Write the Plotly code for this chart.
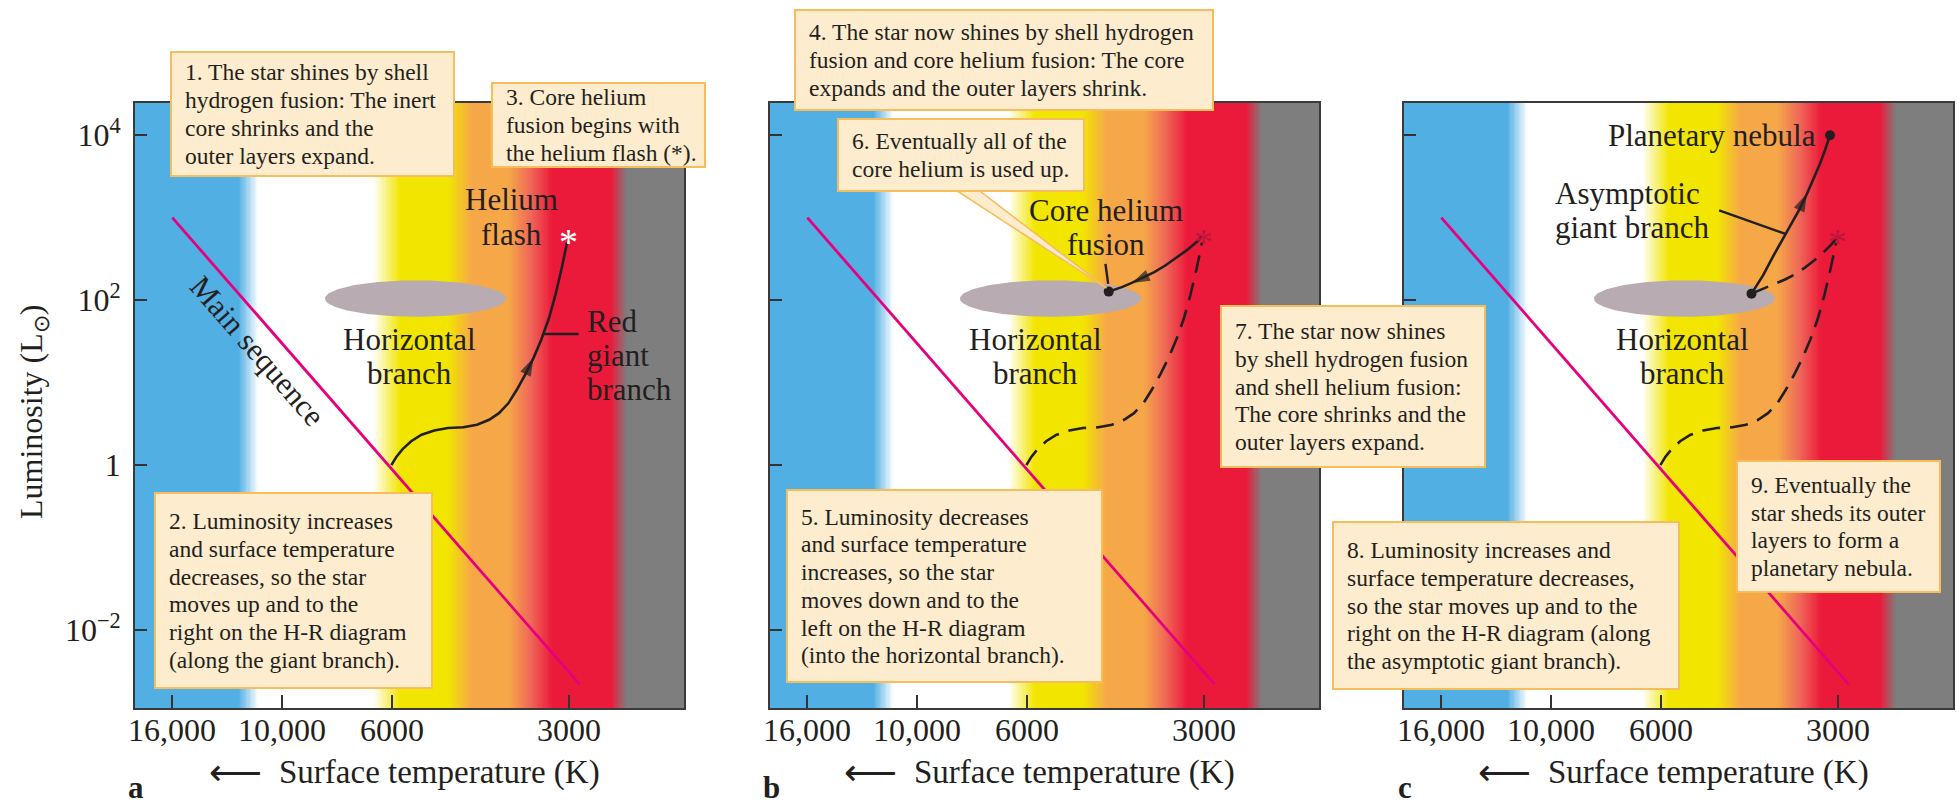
import numpy as np
import plotly.graph_objects as go

# ---------------------------------------------------------------- data
# Temperature axis is schematic: positions are percent of the panel width.
TEMP_TICK_LABELS = ["16,000", "10,000", "6000", "3000"]
TEMP_TICK_POS = [6.7, 26.7, 46.8, 79.0]

LUM_TICK_VALUES = [1e4, 1e2, 1, 1e-2]
LUM_TICK_LABELS = ["10<sup>4</sup>", "10<sup>2</sup>", "1", "10<sup>−2</sup>"]

# main sequence
MS_POS = [6.8, 81.0]
MS_LUM = [1000, 0.0022]

# red giant branch, from the main-sequence turnoff up to the helium flash
RG_POS = [46.7, 47.6, 48.8, 50.3, 52.2, 54.5, 57.0, 59.8, 62.3, 64.5,
          66.3, 68.0, 69.6, 71.1, 72.6, 74.0, 75.4, 76.6, 77.7, 78.7]
RG_LUM = [1.0, 1.26, 1.58, 1.95, 2.34, 2.63, 2.82, 2.88, 3.09, 3.55,
          4.27, 5.62, 8.32, 12.6, 20.0, 33.1, 60.3, 117, 240, 501]

# helium flash
FLASH_POS = 79.0
FLASH_LUM = 640

# horizontal-branch region
HB_POS_RANGE = [34.6, 67.6]
HB_LUM_RANGE = [63, 174]

# panel b: helium flash -> core helium fusion on the horizontal branch
HB_ARC_B_POS = [78.6, 77.8, 76.0, 74.1, 72.0, 70.0, 67.9, 65.9, 64.2, 62.7, 61.7]
HB_ARC_B_LUM = [589, 513, 407, 331, 263, 219, 186, 162, 145, 133, 127]

# panel c: same path (past), from the horizontal branch back to the flash
HB_ARC_C_POS = [63.3, 65.5, 67.5, 69.4, 71.1, 72.9, 74.7, 76.4, 77.9, 78.8]
HB_ARC_C_LUM = [120, 138, 158, 178, 204, 245, 302, 380, 479, 570]

# panel c: asymptotic giant branch up to the planetary nebula
AGB_POS = [63.3, 65.4, 67.3, 69.1, 70.7, 72.1, 73.4, 74.6, 75.7, 76.7, 77.6]
AGB_LUM = [120, 200, 347, 562, 851, 1288, 1950, 2951, 4365, 6607, 10000]

# leader lines from labels to curves
RGB_LEADER_POS = [74.4, 80.8]
RGB_LEADER_LUM = [38.9, 38.9]
CHF_LEADER_POS = [61.1, 61.6]
CHF_LEADER_LUM = [275, 158]
AGB_LEADER_POS = [57.4, 69.6]
AGB_LEADER_LUM = [1230, 631]

# ---------------------------------------------------------------- layout
W, H = 1957, 809
PANEL_LEFT = [135, 770, 1404]
PANEL_W = 549
FRAME_TOP, FRAME_BOTTOM = 103, 708
PX_PER_DEC = 82.5
LOG_TOP = 4.39
LOG_BOTTOM = LOG_TOP - (FRAME_BOTTOM - FRAME_TOP) / PX_PER_DEC

SERIF = "Liberation Serif"
INK = "#231f20"
BOX_FILL = "#fdeccd"
BOX_EDGE = "#f6bd5c"
MAGENTA = "#e6007e"
FLASH_RED = "#c0143c"

BANDS = [
    [0.000, "rgb(82,175,228)"],
    [0.188, "rgb(82,175,228)"],
    [0.225, "rgb(255,255,255)"],
    [0.434, "rgb(255,255,255)"],
    [0.483, "rgb(242,229,0)"],
    [0.570, "rgb(242,229,0)"],
    [0.613, "rgb(246,168,72)"],
    [0.680, "rgb(246,168,72)"],
    [0.720, "rgb(239,104,88)"],
    [0.760, "rgb(236,26,58)"],
    [0.867, "rgb(236,26,58)"],
    [0.896, "rgb(126,126,126)"],
    [1.000, "rgb(126,126,126)"],
]

AX = [("x", "y"), ("x2", "y2"), ("x3", "y3")]


def px_to_data(panel, px, py):
    pos = (px - PANEL_LEFT[panel]) / PANEL_W * 100
    lum = 10 ** (LOG_TOP - (py - FRAME_TOP) / PX_PER_DEC)
    return pos, lum


fig = go.Figure()
annotations = []
shapes = []


def text(x, y, s, size, xref="paper", yref="paper", xanchor="center",
         color=INK, family=SERIF, **kw):
    annotations.append(dict(x=x, y=y, xref=xref, yref=yref, text=s,
                            showarrow=False, xanchor=xanchor, yanchor="middle",
                            font=dict(family=family, size=size, color=color), **kw))


def line(panel, x, y, color=INK, width=2.4, dash="solid", mode="lines", **kw):
    xa, ya = AX[panel]
    fig.add_trace(go.Scatter(x=x, y=y, mode=mode, xaxis=xa, yaxis=ya,
                             line=dict(color=color, width=width, dash=dash),
                             hoverinfo="skip", showlegend=False, **kw))


def stacked(lines, x, y, xref, yref, size, spacing, xanchor="center", angle=0):
    n = len(lines)
    for k, s in enumerate(lines):
        text(x, y, s, size, xref=xref, yref=yref, xanchor=xanchor,
             yshift=((n - 1) / 2 - k) * spacing, textangle=angle)


def arrow_on(panel, pos, lum, head, tail):
    # arrowhead marker oriented along the curve direction
    xa, ya = AX[panel]
    fig.add_trace(go.Scatter(
        x=[pos[tail], pos[head]], y=[lum[tail], lum[head]], mode="markers",
        marker=dict(symbol="arrow", size=[0, 19], color=INK, angleref="previous",
                    line=dict(width=0)),
        xaxis=xa, yaxis=ya, hoverinfo="skip", showlegend=False))


def flash_star(panel, color):
    xa, ya = AX[panel]
    text(FLASH_POS, np.log10(FLASH_LUM), "*", 38, xref=xa, yref=ya,
         color=color, yshift=-8)


def box(x0, y0, x1, y1, lines, size=23.5, spacing=27.7):
    shapes.append(dict(type="rect", xref="paper", yref="paper",
                       x0=x0 / W, x1=x1 / W, y0=1 - y0 / H, y1=1 - y1 / H,
                       fillcolor=BOX_FILL, line=dict(color=BOX_EDGE, width=2),
                       layer="above"))
    n = len(lines)
    first = (y0 + y1) / 2 - (n - 1) / 2 * spacing
    for k, s in enumerate(lines):
        text((x0 + 12) / W, 1 - (first + k * spacing) / H, s, size, xanchor="left")


# ---------------------------------------------------------------- panels
edges = np.linspace(0, 100, 441)
centers = (edges[:-1] + edges[1:]) / 2
theta = np.linspace(0, 2 * np.pi, 181)
hb_cx = np.mean(HB_POS_RANGE)
hb_rx = (HB_POS_RANGE[1] - HB_POS_RANGE[0]) / 2
hb_cy = np.mean(np.log10(HB_LUM_RANGE))
hb_ry = (np.log10(HB_LUM_RANGE[1]) - np.log10(HB_LUM_RANGE[0])) / 2

for p in range(3):
    xa, ya = AX[p]
    # colour bands across the temperature axis
    fig.add_trace(go.Heatmap(
        x=edges, y=[10 ** LOG_BOTTOM, 10 ** LOG_TOP], z=[centers],
        zmin=0, zmax=100, colorscale=BANDS, showscale=False,
        hoverinfo="skip", xaxis=xa, yaxis=ya))
    # horizontal branch
    fig.add_trace(go.Scatter(
        x=hb_cx + hb_rx * np.cos(theta), y=10 ** (hb_cy + hb_ry * np.sin(theta)),
        mode="lines", fill="toself", fillcolor="#b8abb1", line=dict(width=0),
        xaxis=xa, yaxis=ya, hoverinfo="skip", showlegend=False))
    # main sequence
    line(p, MS_POS, MS_LUM, color=MAGENTA, width=2.8)
    # horizontal-branch label
    hb_label_pos = [50.0, 48.4, 50.8][p]
    stacked(["Horizontal", "branch"], hb_label_pos, np.log10(21), xa, ya, 31, 34)

# panel a
line(0, RG_POS, RG_LUM, width=2.6)
arrow_on(0, RG_POS, RG_LUM, 14, 13)
line(0, RGB_LEADER_POS, RGB_LEADER_LUM, width=2.4)
flash_star(0, "white")
stacked(["Helium", "flash"], 68.5, 3.01, "x", "y", 31, 35)
stacked(["Red", "giant", "branch"], 82.0, 1.33, "x", "y", 31, 34, xanchor="left")
stacked(["Main sequence"], 22.4, np.log10(24), "x", "y", 31, 0, angle=49)

# panel b
line(1, RG_POS, RG_LUM, width=2.6, dash="18px,10px")
line(1, HB_ARC_B_POS, HB_ARC_B_LUM, width=2.6)
arrow_on(1, HB_ARC_B_POS, HB_ARC_B_LUM, 7, 6)
line(1, CHF_LEADER_POS, CHF_LEADER_LUM, width=2.4)
line(1, HB_ARC_B_POS[-1:], HB_ARC_B_LUM[-1:], mode="markers",
     marker=dict(color=INK, size=10))
flash_star(1, FLASH_RED)
stacked(["Core helium", "fusion"], 61.2, 2.875, "x2", "y2", 31, 34)

# callout from box 6 to the end of core helium fusion
B6 = (838, 119, 1084, 191)
base_l = px_to_data(1, 948, B6[3] - 6)
base_r = px_to_data(1, 972, B6[3] - 6)
tip = (HB_ARC_B_POS[-1] - 0.4, HB_ARC_B_LUM[-1] * 1.1)
fig.add_trace(go.Scatter(
    x=[base_l[0], tip[0], base_r[0], base_l[0]],
    y=[base_l[1], tip[1], base_r[1], base_l[1]],
    mode="lines", fill="toself", fillcolor=BOX_FILL,
    line=dict(color=BOX_EDGE, width=1.5), xaxis="x2", yaxis="y2",
    hoverinfo="skip", showlegend=False))

# panel c
line(2, RG_POS, RG_LUM, width=2.6, dash="18px,10px")
line(2, HB_ARC_C_POS, HB_ARC_C_LUM, width=2.6, dash="18px,10px")
line(2, AGB_POS, AGB_LUM, width=2.6)
arrow_on(2, AGB_POS, AGB_LUM, 6, 5)
line(2, AGB_LEADER_POS, AGB_LEADER_LUM, width=2.4)
line(2, [AGB_POS[0], AGB_POS[-1]], [AGB_LUM[0], AGB_LUM[-1]], mode="markers",
     marker=dict(color=INK, size=10))
flash_star(2, FLASH_RED)
stacked(["Planetary nebula"], 75.4, 4.0, "x3", "y3", 31, 0, xanchor="right")
stacked(["Asymptotic", "giant branch"], 27.2, 3.09, "x3", "y3", 31, 34,
        xanchor="left")

# ---------------------------------------------------------------- boxes
box(171, 52, 454, 176, ["1. The star shines by shell", "hydrogen fusion: The inert",
                        "core shrinks and the", "outer layers expand."])
box(492, 83, 705, 167, ["3. Core helium", "fusion begins with",
                        "the helium flash (*)."])
box(155, 493, 432, 688, ["2. Luminosity increases", "and surface temperature",
                         "decreases, so the star", "moves up and to the",
                         "right on the H-R diagram", "(along the giant branch)."])
box(795, 10, 1213, 110, ["4. The star now shines by shell hydrogen",
                         "fusion and core helium fusion: The core",
                         "expands and the outer layers shrink."])
box(*B6, ["6. Eventually all of the", "core helium is used up."])
box(787, 490, 1102, 682, ["5. Luminosity decreases", "and surface temperature",
                          "increases, so the star", "moves down and to the",
                          "left on the H-R diagram", "(into the horizontal branch)."])
box(1221, 306, 1485, 467, ["7. The star now shines", "by shell hydrogen fusion",
                           "and shell helium fusion:", "The core shrinks and the",
                           "outer layers expand."])
box(1333, 522, 1679, 689, ["8. Luminosity increases and",
                           "surface temperature decreases,",
                           "so the star moves up and to the",
                           "right on the H-R diagram (along",
                           "the asymptotic giant branch)."])
box(1737, 461, 1940, 592, ["9. Eventually the", "star sheds its outer",
                           "layers to form a", "planetary nebula."])

# ---------------------------------------------------------------- axes
layout = dict(width=W, height=H, margin=dict(l=0, r=0, t=0, b=0),
              paper_bgcolor="white", plot_bgcolor="white", showlegend=False)

for p in range(3):
    sfx = "" if p == 0 else str(p + 1)
    xa, ya = AX[p]
    left = PANEL_LEFT[p]
    layout["xaxis" + sfx] = dict(
        domain=[left / W, (left + PANEL_W) / W], range=[0, 100],
        anchor="y" + sfx, tickvals=TEMP_TICK_POS, showticklabels=False,
        ticks="inside", ticklen=13, tickwidth=2, tickcolor="#333",
        showline=True, mirror=True, linecolor="#3a3a3a", linewidth=1.6,
        showgrid=False, zeroline=False, fixedrange=True)
    layout["yaxis" + sfx] = dict(
        domain=[1 - FRAME_BOTTOM / H, 1 - FRAME_TOP / H], type="log",
        range=[LOG_BOTTOM, LOG_TOP], anchor="x" + sfx,
        tickvals=LUM_TICK_VALUES, ticktext=LUM_TICK_LABELS,
        showticklabels=(p == 0), ticklabelstandoff=6,
        ticks="inside", ticklen=12, tickwidth=2, tickcolor="#333",
        showline=True, mirror=True, linecolor="#3a3a3a", linewidth=1.6,
        showgrid=False, zeroline=False, fixedrange=True,
        tickfont=dict(family=SERIF, size=32, color=INK))

    # temperature tick labels under the frame
    for pos, lab in zip(TEMP_TICK_POS, TEMP_TICK_LABELS):
        text(pos, 1 - 730 / H, lab, 32, xref=xa)

    # temperature axis title with its arrow, and the panel letter
    text((left + 304) / W, 1 - 772 / H, "Surface temperature (K)", 33)
    text((left + 100) / W, 1 - 772 / H, "⟵", 37, family="DejaVu Sans")
    text((left + 1) / W, 1 - 787 / H, "<b>" + "abc"[p] + "</b>", 31)

text(33 / W, 1 - 412 / H, "Luminosity (L<sub>⊙</sub>)", 32, textangle=-90)

layout["annotations"] = annotations
layout["shapes"] = shapes
fig.update_layout(**layout)

fig.write_html("out.html")
